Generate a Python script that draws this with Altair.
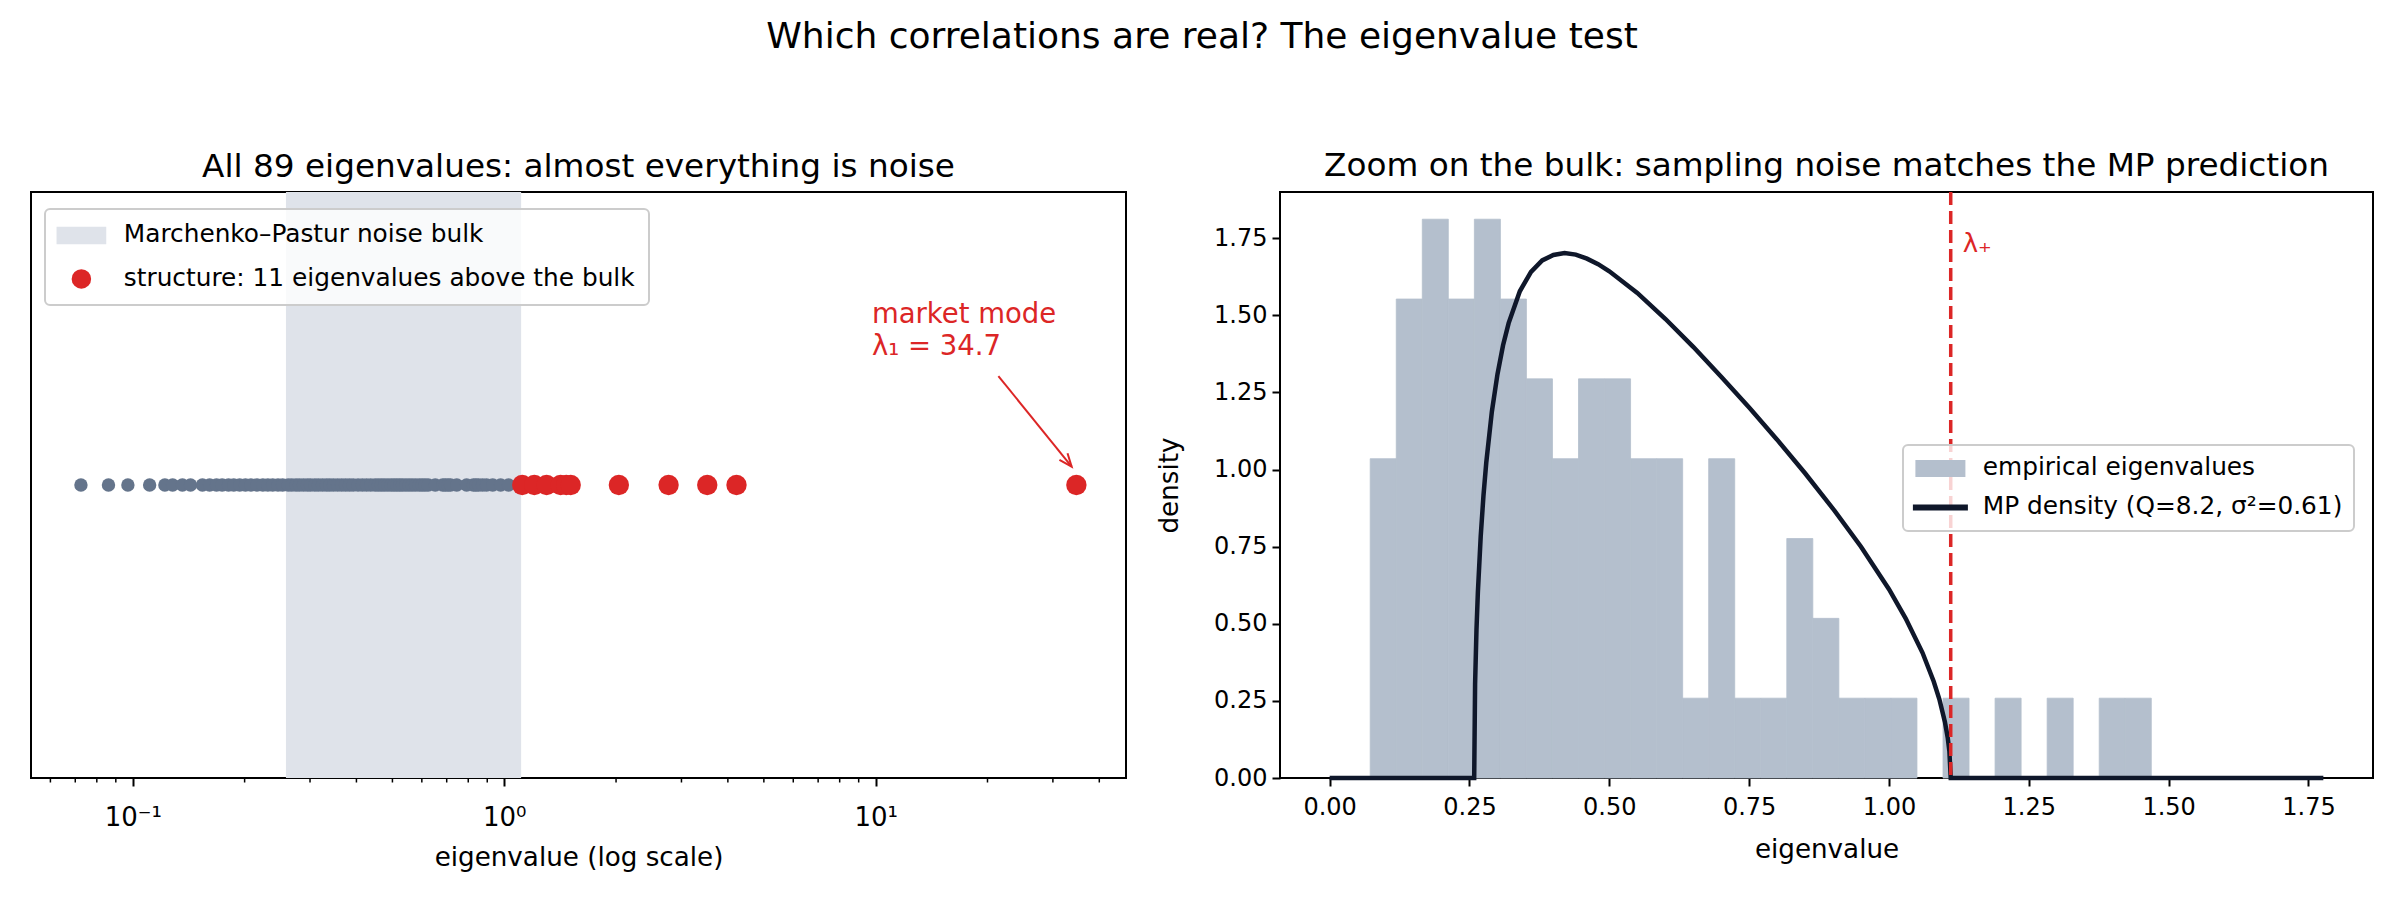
import altair as alt
import numpy as np
import pandas as pd

FONT = "DejaVu Sans"
TITLE = "Which correlations are real? The eigenvalue test"
LEFT_TITLE = "All 89 eigenvalues: almost everything is noise"
RIGHT_TITLE = "Zoom on the bulk: sampling noise matches the MP prediction"
LEG_BULK = "Marchenko–Pastur noise bulk"
LEG_STRUCT = "structure: 11 eigenvalues above the bulk"
LEG_EMP = "empirical eigenvalues"
LEG_MP = "MP density (Q=8.2, σ²=0.61)"

# eigenvalues inside / below the MP bulk (grey) and above it (red)
NOISE_EIG = [0.0725, 0.086, 0.097, 0.111,
             0.122, 0.128, 0.136, 0.143, 0.154, 0.161,
             0.168, 0.174, 0.181, 0.187, 0.194, 0.201, 0.208,
             0.216, 0.224, 0.231, 0.238, 0.246, 0.253,
             0.262, 0.268, 0.275, 0.281, 0.288, 0.295, 0.301,
             0.309, 0.316, 0.324, 0.332, 0.339, 0.347,
             0.356, 0.365, 0.374, 0.383, 0.392,
             0.404, 0.415, 0.426, 0.437,
             0.449, 0.458, 0.467, 0.476, 0.486,
             0.496, 0.505, 0.514, 0.523, 0.532,
             0.543, 0.554, 0.565, 0.577,
             0.590, 0.601, 0.612, 0.624,
             0.652,
             0.683, 0.694, 0.706, 0.717,
             0.745, 0.792,
             0.826, 0.839, 0.853,
             0.874, 0.896, 0.931, 0.978, 1.027]
STRUCT_EIG = [1.118, 1.205, 1.300, 1.418, 1.469, 1.51, 2.035, 2.77, 3.52, 4.22, 34.7]

MP_LOW = 0.2584
MP_HIGH = 1.1104

# histogram of the bulk (30 bins)
HIST_RANGE = [0.0725, 1.469]
HIST_COUNTS = [4, 6, 7, 6, 7, 6, 5, 4, 5, 5, 4, 4, 1, 4, 1, 1, 3, 2, 1, 1, 1, 0, 1, 0, 1, 0, 1, 0, 1, 1]

# MP density curve
MP_X = [0.0, 0.2584, 0.26, 0.2625, 0.265, 0.27, 0.275, 0.28, 0.29, 0.30, 0.31, 0.32, 0.34, 0.36, 0.38,
        0.40, 0.42, 0.44, 0.46, 0.48, 0.50, 0.55, 0.60, 0.65, 0.70, 0.75, 0.80, 0.85, 0.90, 0.95,
        1.00, 1.03, 1.06, 1.08, 1.09, 1.10, 1.105, 1.108, 1.1104, 1.7766]
MP_Y = [0.0, 0.0, 0.304, 0.481, 0.603, 0.782, 0.916, 1.023, 1.188, 1.309, 1.403, 1.475, 1.578, 1.641, 1.678,
        1.696, 1.702, 1.697, 1.684, 1.666, 1.643, 1.573, 1.489, 1.398, 1.301, 1.201, 1.097, 0.988, 0.873, 0.750,
        0.612, 0.517, 0.406, 0.313, 0.256, 0.182, 0.131, 0.087, 0.0, 0.0]

LOG_TICKS = [0.1, 1, 10]
MINOR_TICKS = [0.06, 0.07, 0.08, 0.09, 0.2, 0.3, 0.4, 0.5, 0.6, 0.7, 0.8, 0.9,
               2, 3, 4, 5, 6, 7, 8, 9, 20, 30, 40]
LIN_TICKS = [0.0, 0.25, 0.5, 0.75, 1.0, 1.25, 1.5, 1.75]

ANNOT_TEXT = ["market mode", "λ₁ = 34.7"]
ANNOT_X = [9.77, 9.77]
ANNOT_Y = [0.58, 0.47]
ARROW = {"x1": 21.4, "y1": 0.372, "x2": 33.7, "y2": 0.0625}

GREY = "#64748b"
RED = "#dc2626"
SHADE = "#dfe3ea"
BAR = "#b4bfcd"
DARK = "#0f172a"

W_L, W_R, H = 1095, 1093, 586

# ---------------- left panel ----------------
xlog = alt.Scale(type="log", domain=[0.0532, 47.2], nice=False)
yflat = alt.Scale(domain=[-1, 1], nice=False)

RECT_L = "M-2.55,-0.9H2.55V0.9H-2.55Z"
left_legend = alt.Legend(
    title=None, orient="none", legendX=14, legendY=17, symbolSize=380,
    padding=14, rowPadding=17.5, symbolOffset=10, labelOffset=30, labelLimit=2000,
    symbolStrokeWidth=0, symbolOpacity=1,
    labelFont=FONT, labelFontSize=24.8, labelColor="black",
)

shade_df = pd.DataFrame({"lo": [MP_LOW], "hi": [MP_HIGH]})
shade = alt.Chart(shade_df).mark_rect(color=SHADE, opacity=1).encode(
    x=alt.X("lo:Q", scale=xlog, title="eigenvalue (log scale)",
            axis=alt.Axis(values=LOG_TICKS, labelFontSize=26, labelPadding=18, titlePadding=14,
                          labelExpr="datum.value < 0.5 ? '10⁻¹' : (datum.value < 5 ? '10⁰' : '10¹')")),
    x2="hi:Q",
)

noise_df = pd.DataFrame({"eig": NOISE_EIG, "y": [0.0] * len(NOISE_EIG)})
noise = alt.Chart(noise_df).mark_point(filled=True, size=180, opacity=1, color=GREY, shape="circle").encode(
    x=alt.X("eig:Q", scale=xlog), y=alt.Y("y:Q", scale=yflat, axis=None))

struct_df = pd.DataFrame({"eig": STRUCT_EIG, "y": [0.0] * len(STRUCT_EIG)})
struct = alt.Chart(struct_df).mark_point(filled=True, size=415, opacity=1, shape="circle", color=RED).encode(
    x=alt.X("eig:Q", scale=xlog), y=alt.Y("y:Q", scale=yflat, axis=None))

# legend carrier (points placed outside the domain and clipped away)
leg_l_df = pd.DataFrame({"x": [0.01, 0.01], "y": [0.0, 0.0], "label": [LEG_BULK, LEG_STRUCT]})
leg_l = alt.Chart(leg_l_df).mark_point(filled=True, opacity=1, clip=True).encode(
    x=alt.X("x:Q", scale=xlog), y=alt.Y("y:Q", scale=yflat),
    color=alt.Color("label:N", scale=alt.Scale(domain=[LEG_BULK, LEG_STRUCT], range=[SHADE, RED]),
                    legend=left_legend),
    shape=alt.Shape("label:N", scale=alt.Scale(domain=[LEG_BULK, LEG_STRUCT], range=[RECT_L, "circle"]),
                    legend=left_legend),
)

minor_df = pd.DataFrame({"v": MINOR_TICKS})
minor = alt.Chart(minor_df).mark_rule(color="black", strokeWidth=1.5).encode(
    x=alt.X("v:Q", scale=xlog), y=alt.value(H), y2=alt.value(H + 4.5))

annot_df = pd.DataFrame({"x": ANNOT_X, "y": ANNOT_Y, "t": ANNOT_TEXT})
annot = alt.Chart(annot_df).mark_text(align="left", baseline="middle", font=FONT, fontSize=27.5, color=RED).encode(
    x=alt.X("x:Q", scale=xlog), y=alt.Y("y:Q", scale=yflat), text="t:N")

arrow_df = pd.DataFrame([ARROW])
arrow_line = alt.Chart(arrow_df).mark_rule(color=RED, strokeWidth=2).encode(
    x=alt.X("x1:Q", scale=xlog), y=alt.Y("y1:Q", scale=yflat), x2="x2:Q", y2="y2:Q")
arrow_head = alt.Chart(arrow_df).mark_point(shape="M-0.4,1L0,0L0.4,1", filled=False, size=676, angle=141,
                                            strokeWidth=2, color=RED, opacity=1).encode(
    x=alt.X("x2:Q", scale=xlog), y=alt.Y("y2:Q", scale=yflat))

left = alt.layer(shade, noise, struct, minor, arrow_line, arrow_head, annot, leg_l).properties(
    width=W_L, height=H, title=alt.Title(LEFT_TITLE, fontSize=32.7, offset=8))

# ---------------- right panel ----------------
edges = np.linspace(HIST_RANGE[0], HIST_RANGE[1], len(HIST_COUNTS) + 1)
bw = edges[1] - edges[0]
n_hist = sum(HIST_COUNTS)
hist_df = pd.DataFrame({"start": edges[:-1], "end": edges[1:],
                        "density": [c / (n_hist * bw) for c in HIST_COUNTS],
                        "zero": 0.0})
hist_df = hist_df[hist_df["density"] > 0]

xlin = alt.Scale(domain=[-0.0888, 1.8654], nice=False)
ylin = alt.Scale(domain=[0, 1.90], nice=False)

RECT_R = "M-2.5,-0.85H2.5V0.85H-2.5Z"
LINE_R = "M-2.75,-0.3H2.75V0.3H-2.75Z"
right_legend = alt.Legend(
    title=None, orient="none", legendX=623, legendY=253, symbolSize=400,
    padding=11, rowPadding=13, symbolOffset=14, labelOffset=30, labelLimit=2000,
    symbolStrokeWidth=0, symbolOpacity=1,
    labelFont=FONT, labelFontSize=24.8, labelColor="black",
)

bars = alt.Chart(hist_df).mark_rect(color=BAR, opacity=1, stroke=BAR, strokeWidth=0.8).encode(
    x=alt.X("start:Q", scale=xlin, title="eigenvalue",
            axis=alt.Axis(values=LIN_TICKS, format=".2f", labelPadding=9, titlePadding=17)),
    x2="end:Q",
    y=alt.Y("density:Q", scale=ylin, title="density",
            axis=alt.Axis(values=LIN_TICKS, format=".2f", titlePadding=30)),
    y2="zero:Q",
)

mp_df = pd.DataFrame({"x": MP_X, "y": MP_Y})
mp_line = alt.Chart(mp_df).mark_line(strokeWidth=4.5, color=DARK).encode(
    x=alt.X("x:Q", scale=xlin), y=alt.Y("y:Q", scale=ylin), order="x:Q")

lam_df = pd.DataFrame({"v": [MP_HIGH], "ty": [1.733], "t": ["λ₊"]})
lam_rule = alt.Chart(lam_df).mark_rule(color=RED, strokeWidth=3.5, strokeDash=[13, 6]).encode(
    x=alt.X("v:Q", scale=xlin))
lam_text = alt.Chart(lam_df).mark_text(align="left", baseline="middle", dx=12, font=FONT, fontSize=26,
                                       color=RED).encode(
    x=alt.X("v:Q", scale=xlin), y=alt.Y("ty:Q", scale=ylin), text="t:N")

leg_r_df = pd.DataFrame({"x": [-1.0, -1.0], "y": [0.5, 0.5], "label": [LEG_EMP, LEG_MP]})
leg_r = alt.Chart(leg_r_df).mark_point(filled=True, opacity=1, clip=True).encode(
    x=alt.X("x:Q", scale=xlin), y=alt.Y("y:Q", scale=ylin),
    color=alt.Color("label:N", scale=alt.Scale(domain=[LEG_EMP, LEG_MP], range=[BAR, DARK]),
                    legend=right_legend),
    shape=alt.Shape("label:N", scale=alt.Scale(domain=[LEG_EMP, LEG_MP], range=[RECT_R, LINE_R]),
                    legend=right_legend),
)

right = alt.layer(bars, mp_line, lam_rule, lam_text, leg_r).properties(
    width=W_R, height=H, title=alt.Title(RIGHT_TITLE, fontSize=32.7, offset=8))

chart = alt.hconcat(left, right, spacing=28).resolve_scale(color="independent", shape="independent").properties(
    title=alt.Title(TITLE, fontSize=36, anchor="middle", offset=93),
    padding={"left": 30, "top": 18, "right": 20, "bottom": 10},
).configure_view(stroke="black", strokeWidth=2).configure_axis(
    domain=False, grid=False, tickColor="black", tickWidth=2, tickSize=8,
    labelFont=FONT, labelFontSize=24, labelColor="black", labelPadding=5,
    titleFont=FONT, titleFontSize=26.2, titleFontWeight="normal", titleColor="black", titlePadding=12,
).configure_legend(
    fillColor="rgba(255,255,255,0.8)", strokeColor="#cccccc", strokeWidth=2, cornerRadius=5,
).configure_title(font=FONT, fontWeight="normal", color="black")

chart.save("out.html", embed_options={"renderer": "svg", "actions": False})
